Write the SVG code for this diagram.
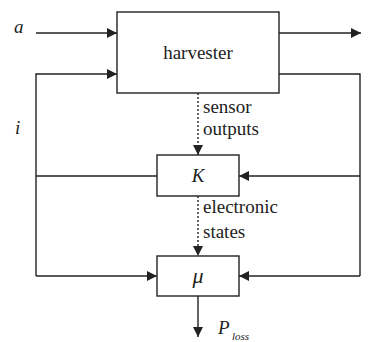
<svg xmlns="http://www.w3.org/2000/svg" width="382" height="342" viewBox="0 0 382 342">
<style>
.box{fill:#fff;stroke:#222;stroke-width:1.4}
.ln{fill:none;stroke:#222;stroke-width:1.4}
.dot{fill:none;stroke:#222;stroke-width:1.4;stroke-dasharray:2 2}
.t{font-family:"Liberation Serif","Times New Roman",serif;font-size:19px;fill:#222}
.it{font-family:"Liberation Serif","Times New Roman",serif;font-size:19px;font-style:italic;fill:#222}
</style>
<defs>
<marker id="ah" viewBox="0 0 10 10" refX="10" refY="5" markerWidth="10" markerHeight="10" markerUnits="userSpaceOnUse" orient="auto">
<path d="M0,0 L10,5 L0,10 Z" fill="#222"/>
</marker>
</defs>
<g id="connectors">
<line class="ln" x1="36" y1="33" x2="117" y2="33" marker-end="url(#ah)"/>
<line class="ln" x1="279" y1="33" x2="361" y2="33" marker-end="url(#ah)"/>
<polyline class="ln" points="279,74 360,74 360,276"/>
<line class="ln" x1="360" y1="176" x2="239" y2="176" marker-end="url(#ah)"/>
<line class="ln" x1="360" y1="276" x2="239" y2="276" marker-end="url(#ah)"/>
<polyline class="ln" points="36,276 36,74 117,74" marker-end="url(#ah)"/>
<line class="ln" x1="157" y1="176" x2="36" y2="176"/>
<line class="ln" x1="36" y1="276" x2="157" y2="276" marker-end="url(#ah)"/>
<line class="dot" x1="198" y1="93" x2="198" y2="155" marker-end="url(#ah)"/>
<line class="dot" x1="198" y1="196" x2="198" y2="256" marker-end="url(#ah)"/>
<line class="ln" x1="198" y1="296" x2="198" y2="337" marker-end="url(#ah)"/>
</g>
<g id="harvester">
<rect class="box" x="117" y="12" width="162" height="81"/>
<text class="t" x="198" y="59" text-anchor="middle">harvester</text>
</g>
<g id="K">
<rect class="box" x="157" y="155" width="82" height="41"/>
<text class="it" x="198" y="182" text-anchor="middle">K</text>
</g>
<g id="mu">
<rect class="box" x="157" y="256" width="82" height="40"/>
<text class="it" x="198" y="283" text-anchor="middle" style="font-size:22px">μ</text>
</g>
<g id="labels">
<text class="it" x="14" y="33">a</text>
<text class="it" x="15" y="134">i</text>
<text class="t" x="203" y="113">sensor</text>
<text class="t" x="203" y="135">outputs</text>
<text class="t" x="203" y="213">electronic</text>
<text class="t" x="203" y="238">states</text>
<text class="it" x="218" y="334">P</text>
<text class="it" x="232" y="340" style="font-size:11px">loss</text>
</g>
</svg>
